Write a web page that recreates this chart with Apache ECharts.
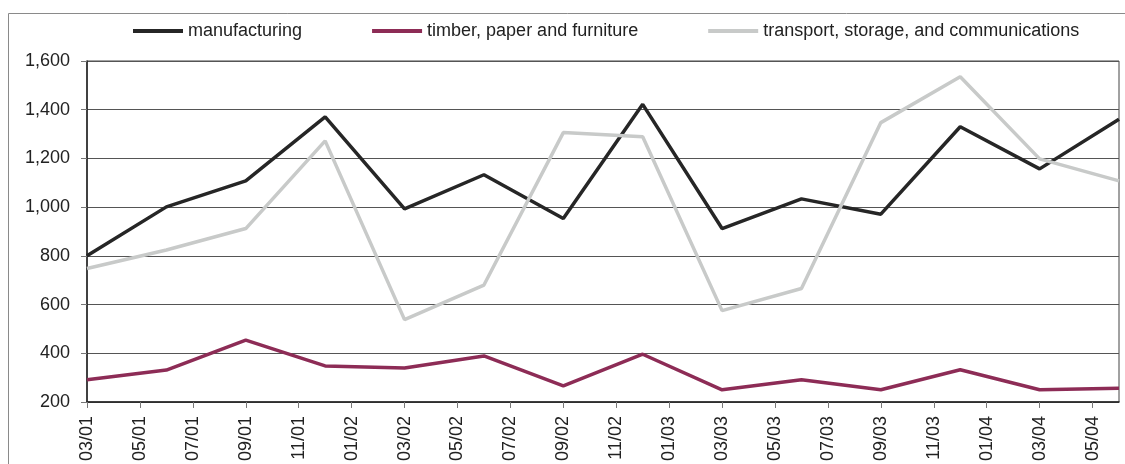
<!DOCTYPE html>
<html>
<head>
<meta charset="utf-8">
<script src="https://cdn.jsdelivr.net/npm/echarts@6/dist/echarts.min.js"></script>
<style>
  html, body { margin: 0; padding: 0; background: #fff; }
  #chart { width: 1125px; height: 464px; }
</style>
</head>
<body>
<div id="chart"></div>
<script>
// monthly category axis, 03/01 .. 06/04
const months = [
  '03/01', '04/01', '05/01', '06/01', '07/01', '08/01', '09/01', '10/01', '11/01', '12/01',
  '01/02', '02/02', '03/02', '04/02', '05/02', '06/02', '07/02', '08/02', '09/02', '10/02', '11/02', '12/02',
  '01/03', '02/03', '03/03', '04/03', '05/03', '06/03', '07/03', '08/03', '09/03', '10/03', '11/03', '12/03',
  '01/04', '02/04', '03/04', '04/04', '05/04', '06/04'
];

// quarterly observations
const quarters = [
  '03/01', '06/01', '09/01', '12/01', '03/02', '06/02', '09/02',
  '12/02', '03/03', '06/03', '09/03', '12/03', '03/04', '06/04'
];

const manufacturing = [800, 1001, 1108, 1371, 993, 1133, 953, 1422, 912, 1034, 971, 1330, 1157, 1361];
const timber = [291, 331, 454, 348, 339, 389, 266, 396, 250, 291, 250, 332, 250, 256];
const transport = [748, 824, 912, 1272, 538, 680, 1306, 1289, 575, 666, 1347, 1535, 1198, 1108];

const pairs = vals => quarters.map((q, i) => [q, vals[i]]);

const chart = echarts.init(document.getElementById('chart'));

const lineSeries = (name, vals, color) => ({
  name: name,
  type: 'line',
  data: pairs(vals),
  symbol: 'none',
  lineStyle: { color: color, width: 3.5 },
  itemStyle: { color: color }
});

chart.setOption({
  animation: false,
  textStyle: { fontFamily: 'Liberation Sans, Arial, sans-serif' },
  graphic: [
    {
      type: 'rect',
      shape: { x: 8.5, y: 13.5, width: 1200, height: 600 },
      style: { fill: 'none', stroke: '#8a8a8a', lineWidth: 1 },
      z: -1
    }
  ],
  legend: {
    left: 128,
    top: 17,
    itemWidth: 50,
    itemHeight: 4,
    itemGap: 70,
    icon: 'rect',
    textStyle: { fontSize: 18, color: '#222' },
    data: ['manufacturing', 'timber, paper and furniture', 'transport, storage, and communications']
  },
  grid: {
    left: 87, right: 6, top: 61, bottom: 61,
    show: true,
    borderColor: '#444',
    borderWidth: 1
  },
  xAxis: {
    type: 'category',
    data: months,
    boundaryGap: false,
    axisLine: { lineStyle: { color: '#222', width: 1.5 } },
    axisTick: { interval: 1, length: 6, lineStyle: { color: '#777' } },
    axisLabel: {
      interval: 1,
      rotate: 90,
      margin: 14,
      fontSize: 18,
      color: '#222'
    },
    splitLine: { show: false }
  },
  yAxis: {
    type: 'value',
    min: 200,
    max: 1600,
    interval: 200,
    axisLine: { show: true, lineStyle: { color: '#222', width: 1.5 } },
    axisTick: { show: true, length: 6, lineStyle: { color: '#777' } },
    axisLabel: {
      margin: 17,
      fontSize: 18,
      color: '#222',
      formatter: v => v.toLocaleString('en-US')
    },
    splitLine: { lineStyle: { color: '#555', width: 1 } }
  },
  series: [
    lineSeries('manufacturing', manufacturing, '#262626'),
    lineSeries('timber, paper and furniture', timber, '#8d2c56'),
    lineSeries('transport, storage, and communications', transport, '#c8cac9')
  ]
});
</script>
</body>
</html>
